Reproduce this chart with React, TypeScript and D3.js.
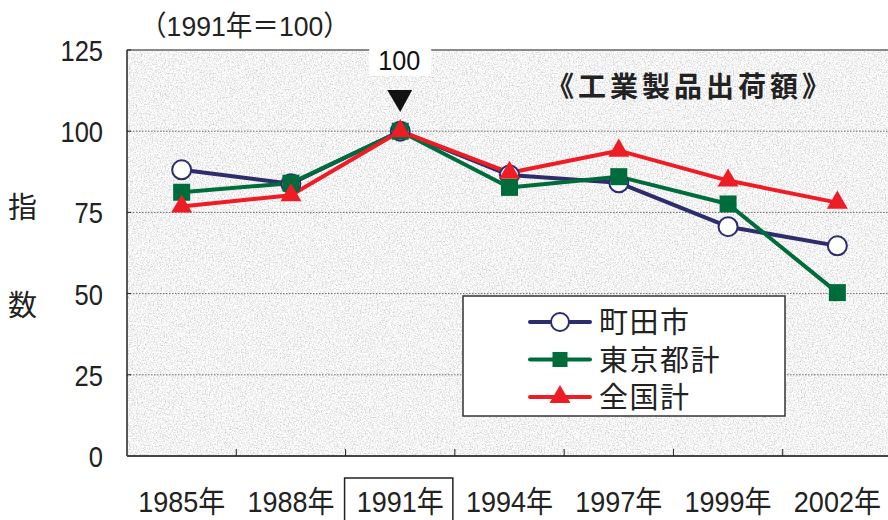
import React from "react";
import * as d3 from "d3";

const categories = ["1985年", "1988年", "1991年", "1994年", "1997年", "1999年", "2002年"];
const machida = [88.1, 83.8, 100, 86.5, 84.1, 70.6, 64.7];
const tokyo = [81.2, 84.0, 100, 82.7, 86.0, 77.6, 50.3];
const zenkoku = [76.8, 80.3, 100, 87.2, 94.0, 84.8, 78.0];
const yTicks = [0, 25, 50, 75, 100, 125];
const gridValues = [25, 50, 75, 100];
const seriesNames = ["町田市", "東京都計", "全国計"];
const baseIndex = 2;
const baseLabel = "100";
const titleText = "（1991年＝100）";
const chartTitle = "《工業製品出荷額》";
const yAxisTitle = ["指", "数"];

const NAVY = "#2d2c6c";
const GREEN = "#006c3c";
const RED = "#ee1c25";
const FONT = "'Liberation Sans', 'Noto Sans CJK JP', sans-serif";

export default function App() {
  const left = 127, right = 892, top = 50, bottom = 456;
  const x = d3.scaleBand<string>().domain(categories).range([left, right]).padding(0);
  const y = d3.scaleLinear().domain([0, 125]).range([bottom, top]);
  const cx = (i: number) => (x(categories[i]) as number) + x.bandwidth() / 2;

  const line = d3.line<number>().x((_, i) => cx(i)).y((d) => y(d));
  const tri = d3.symbol().type(d3.symbolTriangle).size(190)();
  const series = [
    { name: seriesNames[0], data: machida, color: NAVY, kind: "circle" },
    { name: seriesNames[1], data: tokyo, color: GREEN, kind: "square" },
    { name: seriesNames[2], data: zenkoku, color: RED, kind: "triangle" },
  ];

  const marker = (kind: string, color: string, px: number, py: number, key: any, legend = false) => {
    if (kind === "circle")
      return <circle key={key} cx={px} cy={py} r={legend ? 9 : 9.5} fill="#fff" stroke={color} strokeWidth={2} />;
    if (kind === "square") {
      const s = legend ? 15 : 17;
      return <rect key={key} x={px - s / 2} y={py - s / 2} width={s} height={s} fill={color} />;
    }
    return <path key={key} d={tri as string} transform={`translate(${px},${py})`} fill={color} />;
  };

  const cond = (tx: number, ty: number, sx = 0.9) => `translate(${tx},${ty}) scale(${sx},1)`;
  const bx = cx(baseIndex);

  return (
    <svg width={888} height={520} style={{ position: "absolute", left: 0, top: 0, background: "#fff" }} fontFamily={FONT}>
      <defs>
        <filter id="granite" x="0" y="0" width="100%" height="100%">
          <feTurbulence type="fractalNoise" baseFrequency="0.75" numOctaves={2} seed={3} result="n" />
          <feColorMatrix in="n" type="matrix"
            values="0.9 0 0 0 0.45  0.9 0 0 0 0.45  0.85 0 0 0 0.48  0 0 0 0 1" />
        </filter>
        <clipPath id="plotclip">
          <rect x={left} y={top} width={right - left} height={bottom - top} />
        </clipPath>
      </defs>

      {/* plot background */}
      <rect x={left} y={top} width={right - left} height={bottom - top} fill="#e4e4e4" />
      <rect x={left} y={top} width={right - left} height={bottom - top} filter="url(#granite)" />
      {/* gridlines */}
      {gridValues.map((v) => (
        <line key={v} x1={left} x2={right} y1={y(v)} y2={y(v)} stroke="#6a6a6a" strokeWidth={1} strokeDasharray="1.5,1.5" />
      ))}
      {/* top border */}
      <line x1={left} x2={right} y1={top} y2={top} stroke="#8a8a8a" strokeWidth={2} />
      {/* y axis */}
      <line x1={left} x2={left} y1={top} y2={bottom} stroke="#222" strokeWidth={1.5} />
      {yTicks.map((v) => (
        <g key={v}>
          <line x1={left} x2={left + 4} y1={y(v)} y2={y(v)} stroke="#222" strokeWidth={1} />
          <text transform={cond(103, y(v) + 11, 0.88)} textAnchor="end" fontSize={29} fill="#222">{v}</text>
        </g>
      ))}
      {/* x axis */}
      <line x1={left} x2={right} y1={bottom} y2={bottom} stroke="#444" strokeWidth={2} />
      {categories.slice(1).map((c) => (
        <line key={c} x1={x(c) as number} x2={x(c) as number} y1={bottom} y2={bottom - 7} stroke="#222" strokeWidth={1} />
      ))}
      {categories.map((c, i) => (
        <text key={c} transform={cond(cx(i), 512)} textAnchor="middle" fontSize={30} fill="#222">{c}</text>
      ))}
      <rect x={(x(categories[baseIndex]) as number) - 1} y={478} width={x.bandwidth() - 1} height={50} fill="none" stroke="#222" strokeWidth={1.5} />

      {/* series */}
      <g clipPath="url(#plotclip)">
        {series.map((s) => (
          <path key={s.name} d={line(s.data) as string} fill="none" stroke={s.color} strokeWidth={4} strokeLinejoin="round" />
        ))}
        {series.map((s) => s.data.map((d, i) => marker(s.kind, s.color, cx(i), y(d), s.name + i)))}
      </g>

      {/* base annotation */}
      <rect x={bx - 31} y={46} width={62} height={30} fill="#fff" />
      <text transform={cond(bx - 1, 70)} textAnchor="middle" fontSize={28} fill="#111">{baseLabel}</text>
      <path d={`M${bx - 13},90 L${bx + 12},90 L${bx},112 Z`} fill="#111" />

      {/* titles */}
      <text transform={cond(140, 36, 0.95)} fontSize={28} fill="#222">{titleText}</text>
      <text x={546} y={97} fontSize={28} fontWeight="bold" fill="#222" letterSpacing={4}>{chartTitle}</text>
      <text x={8} y={218} fontSize={29} fill="#222">{yAxisTitle[0]}</text>
      <text x={8} y={316} fontSize={29} fill="#222">{yAxisTitle[1]}</text>

      {/* legend */}
      <rect x={463} y={296} width={322} height={120} fill="#fff" stroke="#333" strokeWidth={1.5} />
      {series.map((s, i) => {
        const ly = 322 + i * 37.5;
        return (
          <g key={s.name}>
            <line x1={530} x2={590} y1={ly} y2={ly} stroke={s.color} strokeWidth={4} strokeLinecap="round" />
            {marker(s.kind, s.color, 560, ly, "lg" + i, true)}
            <text x={599} y={ly + 11} fontSize={29} fill="#222" letterSpacing={1.5}>{s.name}</text>
          </g>
        );
      })}
    </svg>
  );
}
